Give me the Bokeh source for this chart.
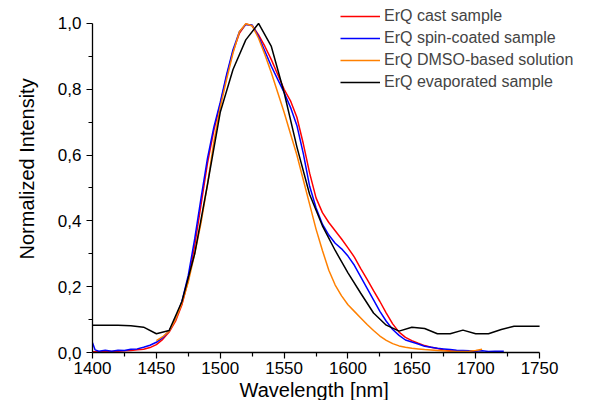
from bokeh.plotting import figure
from bokeh.models import (Range1d, FixedTicker, CustomJSTickFormatter, Legend, LegendItem, Title)
from bokeh.embed import file_html
from bokeh.resources import INLINE

# ---------------- data ----------------
wl_cast = [1400, 1405, 1410, 1415, 1420, 1425, 1430, 1435, 1440, 1445,
           1450, 1455, 1460, 1465, 1470, 1475, 1480, 1485, 1490, 1495,
           1500, 1505, 1510, 1515, 1520, 1525, 1530, 1535, 1540, 1545,
           1550, 1555, 1560, 1565, 1570, 1575, 1580, 1585, 1590, 1595,
           1600, 1605, 1610, 1615, 1620, 1625, 1630, 1635, 1640, 1645,
           1650, 1655, 1660, 1665, 1670, 1675, 1680, 1685, 1690, 1695, 1700]
int_cast = [0.002, 0.002, 0.003, 0.003, 0.004, 0.005, 0.006, 0.008, 0.010, 0.015,
            0.024, 0.040, 0.062, 0.095, 0.145, 0.220, 0.325, 0.450, 0.575, 0.675,
            0.755, 0.840, 0.915, 0.970, 0.998, 0.993, 0.965, 0.930, 0.890, 0.845,
            0.800, 0.765, 0.715, 0.635, 0.545, 0.470, 0.425, 0.395, 0.370, 0.345,
            0.318, 0.290, 0.255, 0.222, 0.188, 0.155, 0.120, 0.087, 0.062, 0.046,
            0.036, 0.028, 0.021, 0.016, 0.012, 0.008, 0.005, 0.004, 0.003, 0.003, 0.003]

wl_spin = [1400, 1402, 1405, 1410, 1415, 1420, 1425, 1430, 1435, 1440, 1445,
           1450, 1455, 1460, 1465, 1470, 1475, 1480, 1485, 1490, 1495,
           1500, 1505, 1510, 1515, 1520, 1525, 1530, 1535, 1540, 1545,
           1550, 1555, 1560, 1565, 1570, 1575, 1580, 1585, 1590, 1595,
           1600, 1605, 1610, 1615, 1620, 1625, 1630, 1635, 1640, 1645,
           1650, 1655, 1660, 1665, 1670, 1675, 1680, 1685, 1690, 1695,
           1700, 1705, 1710, 1715, 1722]
int_spin = [0.030, 0.008, 0.004, 0.007, 0.004, 0.007, 0.006, 0.010, 0.011, 0.016, 0.022,
            0.031, 0.045, 0.066, 0.102, 0.155, 0.235, 0.345, 0.470, 0.590, 0.685,
            0.760, 0.845, 0.920, 0.975, 0.997, 0.995, 0.960, 0.915, 0.870, 0.830,
            0.790, 0.745, 0.690, 0.605, 0.505, 0.440, 0.390, 0.357, 0.332, 0.315,
            0.293, 0.265, 0.230, 0.195, 0.160, 0.125, 0.095, 0.070, 0.052, 0.038,
            0.032, 0.026, 0.019, 0.016, 0.013, 0.011, 0.009, 0.007, 0.006, 0.005,
            0.004, 0.005, 0.003, 0.004, 0.004]

wl_dmso = [1450, 1455, 1460, 1465, 1470, 1475, 1480, 1485, 1490, 1495,
           1500, 1505, 1510, 1515, 1520, 1525, 1530, 1535, 1540, 1545,
           1550, 1555, 1560, 1565, 1570, 1575, 1580, 1585, 1590, 1595,
           1600, 1605, 1610, 1615, 1620, 1625, 1630, 1635, 1640, 1645,
           1650, 1655, 1660, 1670, 1680, 1690, 1695, 1700, 1705]
int_dmso = [0.036, 0.048, 0.065, 0.100, 0.150, 0.215, 0.300, 0.395, 0.510, 0.640,
            0.745, 0.830, 0.910, 0.975, 0.999, 0.993, 0.955, 0.905, 0.850, 0.790,
            0.730, 0.665, 0.600, 0.525, 0.450, 0.375, 0.310, 0.250, 0.205, 0.172,
            0.145, 0.125, 0.105, 0.085, 0.067, 0.050, 0.037, 0.027, 0.020, 0.016,
            0.013, 0.011, 0.009, 0.006, 0.004, 0.003, 0.004, 0.006, 0.010]

wl_evap = [1400, 1410, 1420, 1430, 1440, 1450, 1460, 1470, 1480, 1490,
           1500, 1510, 1520, 1530, 1540, 1550, 1560, 1570, 1580, 1590,
           1600, 1610, 1620, 1630, 1640, 1650, 1660, 1670, 1680, 1690,
           1700, 1710, 1720, 1730, 1740, 1750]
int_evap = [0.083, 0.083, 0.083, 0.081, 0.077, 0.057, 0.067, 0.155, 0.300, 0.510,
            0.730, 0.860, 0.950, 1.000, 0.930, 0.790, 0.625, 0.480, 0.385, 0.310,
            0.242, 0.180, 0.120, 0.083, 0.065, 0.077, 0.073, 0.057, 0.057, 0.068,
            0.057, 0.057, 0.070, 0.080, 0.080, 0.080]

series_names = ["ErQ cast sample", "ErQ spin-coated sample",
                "ErQ DMSO-based solution", "ErQ evaporated sample"]
series_colors = ["#FF0000", "#0000FF", "#FF8000", "#000000"]

x_ticks = [1400, 1450, 1500, 1550, 1600, 1650, 1700, 1750]
x_minor = [1425, 1475, 1525, 1575, 1625, 1675, 1725]
y_ticks = [0.0, 0.2, 0.4, 0.6, 0.8, 1.0]
y_minor = [0.1, 0.3, 0.5, 0.7, 0.9]

x_title = "Wavelength [nm]"
y_title = "Normalized Intensity"

FONT = "Liberation Sans"

W, H = 577, 400
LEFT, BOTTOM = 91, 47          # frame reaches the top and right canvas edges
PX_PER_NM = 1.28
PX_PER_UNIT = 330.0

x_end = 1400 + (W - LEFT) / PX_PER_NM
y_end = (H - BOTTOM) / PX_PER_UNIT

# ---------------- figure ----------------
p = figure(width=W, height=H, output_backend="svg", toolbar_location=None,
           x_range=Range1d(1400, x_end), y_range=Range1d(0, y_end),
           min_border_left=LEFT, min_border_right=0, min_border_top=0,
           min_border_bottom=BOTTOM)
p.outline_line_color = None
p.xgrid.visible = False
p.ygrid.visible = False
p.background_fill_color = "white"
p.border_fill_color = "white"

renderers = []
for xs, ys, c in [(wl_cast, int_cast, series_colors[0]),
                  (wl_spin, int_spin, series_colors[1]),
                  (wl_dmso, int_dmso, series_colors[2]),
                  (wl_evap, int_evap, series_colors[3])]:
    r = p.line(xs, ys, line_color=c, line_width=1.5)
    renderers.append(r)

for ax in (p.xaxis[0], p.yaxis[0]):
    ax.axis_line_color = "black"
    ax.axis_line_width = 1.3
    ax.major_tick_line_color = "black"
    ax.minor_tick_line_color = "black"
    ax.major_tick_line_width = 1.2
    ax.minor_tick_line_width = 1.2
    ax.major_tick_in = 0
    ax.minor_tick_in = 0
    ax.major_tick_out = 6
    ax.minor_tick_out = 4
    ax.major_label_text_font = FONT
    ax.major_label_text_font_size = "17px"
    ax.major_label_text_color = "black"

p.xaxis[0].ticker = FixedTicker(ticks=x_ticks, minor_ticks=x_minor)
p.xaxis[0].bounds = (1400, 1750)
p.xaxis[0].major_label_standoff = 3
p.yaxis[0].ticker = FixedTicker(ticks=y_ticks, minor_ticks=y_minor)
p.yaxis[0].bounds = (0, 1)
p.yaxis[0].major_label_standoff = 5
p.yaxis[0].formatter = CustomJSTickFormatter(code="return tick.toFixed(1).replace('.', ',');")

# axis titles
p.add_layout(Title(text=x_title, align="left", offset=147, standoff=0,
                   text_font=FONT, text_font_size="20px", text_font_style="normal",
                   text_color="black"), "below")
p.add_layout(Title(text=y_title, align="left", offset=93, standoff=30,
                   vertical_align="top",
                   text_font=FONT, text_font_size="20px", text_font_style="normal",
                   text_color="black"), "left")

legend = Legend(items=[LegendItem(label=n, renderers=[r]) for n, r in zip(series_names, renderers)],
                location=(248, 261), padding=0, margin=0, spacing=4,
                glyph_width=40, glyph_height=18, label_height=18, label_standoff=4,
                label_text_font=FONT, label_text_font_size="16px",
                label_text_baseline="middle",
                border_line_alpha=0, background_fill_alpha=0)
p.add_layout(legend, "center")

open("out.html", "w").write(file_html(p, INLINE))
